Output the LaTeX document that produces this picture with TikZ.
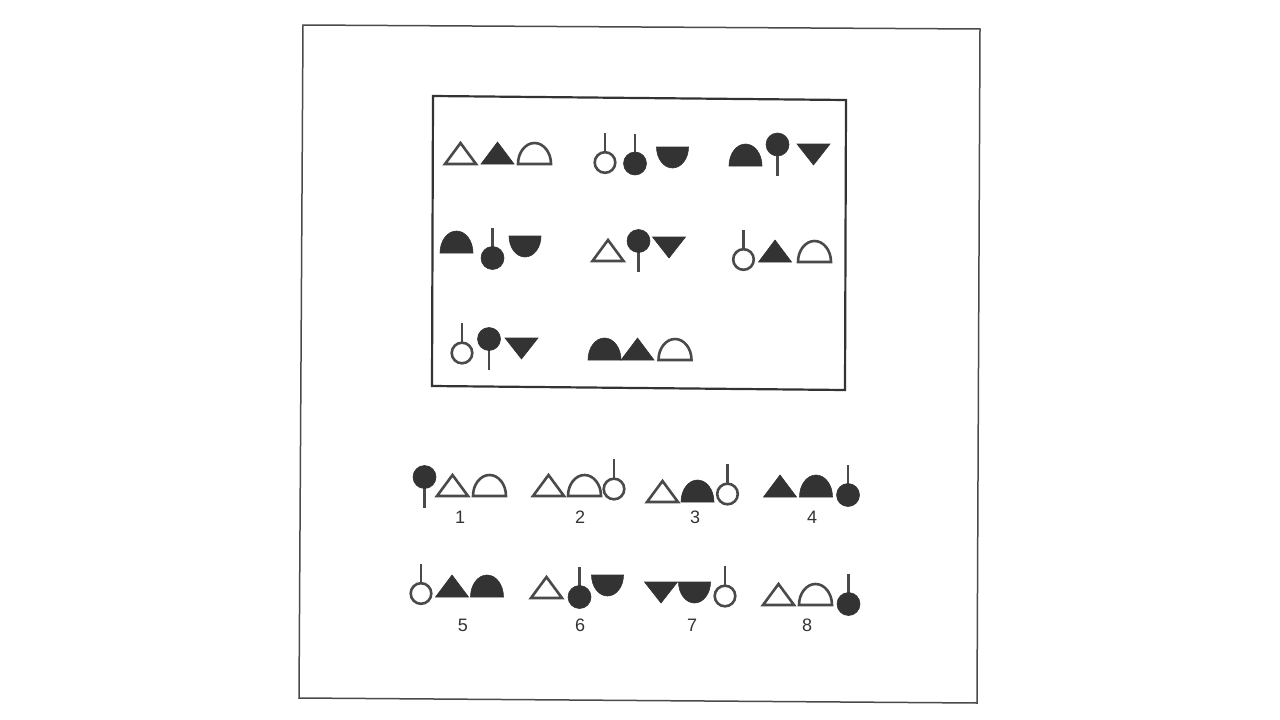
\documentclass[tikz,border=0pt]{standalone}
\usepackage{fontspec}
\setmainfont{Liberation Sans}
\definecolor{ink}{HTML}{333333}
\definecolor{lineink}{HTML}{4A4A4A}
\tikzset{
  openshape/.style={draw=lineink, line width=2.6, fill=white, line join=miter},
  fillshape/.style={fill=ink, draw=ink, line width=0.6},
  stick/.style={draw=lineink, line width=2.2},
  numlabel/.style={font=\fontsize{18}{18}\selectfont, text=ink, inner sep=0},
  % triangles: origin at bottom centre
  otri/.pic={\path[openshape] (-15.5,0) -- (15.5,0) -- (0,-21) -- cycle;},
  ftri/.pic={\path[fillshape] (-16.5,0) -- (16.5,0) -- (0,-22) -- cycle;},
  % inverted triangle: origin at top centre
  fitri/.pic={\path[fillshape] (-16.5,0) -- (16.5,0) -- (0,21) -- cycle;},
  % domes: origin at bottom centre
  odome/.pic={\path[openshape] (-16.5,0) .. controls (-16.5,-11.6) and (-9.1,-21) .. (0,-21)
      .. controls (9.1,-21) and (16.5,-11.6) .. (16.5,0) -- cycle;},
  fdome/.pic={\path[fillshape] (-16.5,0) .. controls (-16.5,-12.2) and (-9.1,-22) .. (0,-22)
      .. controls (9.1,-22) and (16.5,-12.2) .. (16.5,0) -- cycle;},
  % bowl: origin at top centre
  fbowl/.pic={\path[fillshape] (-16,0) .. controls (-16,11.6) and (-8.8,21) .. (0,21)
      .. controls (8.8,21) and (16,11.6) .. (16,0) -- cycle;},
  % lollipops: origin at circle centre
  oup/.pic={\path[stick] (0,-11.5) -- (0,-30); \path[openshape] (0,0) circle[radius=10.3];},
  fup/.pic={\path[stick] (0,-11) -- (0,-30); \path[fillshape] (0,0) circle[radius=11.5];},
  fdown/.pic={\path[stick] (0,11) -- (0,31); \path[fillshape] (0,0) circle[radius=11.5];},
}
\begin{document}
\begin{tikzpicture}[x=1pt,y=-1pt]
\useasboundingbox[fill=white] (0,0) rectangle (1280,720);
% outer frame
\draw[lineink, line width=1.5] (303,25) -- (980,29) -- (977,703) -- (299,698) -- cycle;
% inner box
\draw[ink, line width=2.2] (433,96) -- (846,100) -- (845,390) -- (432,386) -- cycle;

% ---- Row 1 ----
\pic at (460.5,164) {otri};
\pic at (497.5,164) {ftri};
\pic at (534.5,164) {odome};

\pic at (605,162.5) {oup};
\pic at (635,163.5) {fup};
\pic at (672.5,147) {fbowl};

\pic at (745.5,166) {fdome};
\pic at (777.5,144.5) {fdown};
\pic at (813.5,144) {fitri};

% ---- Row 2 ----
\pic at (456.5,253) {fdome};
\pic at (492.5,258) {fup};
\pic at (525,236) {fbowl};

\pic at (608,261) {otri};
\pic at (638.5,241) {fdown};
\pic at (669,237) {fitri};

\pic at (743.5,259.5) {oup};
\pic at (775,262) {ftri};
\pic at (814.5,262) {odome};

% ---- Row 3 ----
\pic at (462,353) {oup};
\pic at (489,339) {fdown};
\pic at (521.5,338) {fitri};

\pic at (604.5,360) {fdome};
\pic at (637.5,360) {ftri};
\pic at (675,360) {odome};

% ---- Answers, row 1 ----
\pic at (424.5,477) {fdown};
\pic at (452.5,496) {otri};
\pic at (489.5,496) {odome};
\node[numlabel] (n1) at (460,517) {1};

\pic at (548.5,496) {otri};
\pic at (584.5,496) {odome};
\pic at (614,489) {oup};
\node[numlabel] (n2) at (580,517) {2};

\pic at (662.5,502) {otri};
\pic at (697.5,502) {fdome};
\pic at (727.5,494) {oup};
\node[numlabel] (n3) at (695,517) {3};

\pic at (780,497) {ftri};
\pic at (816,497) {fdome};
\pic at (848,495) {fup};
\node[numlabel] (n4) at (812,517) {4};

% ---- Answers, row 2 ----
\pic at (421,593.5) {oup};
\pic at (452,597) {ftri};
\pic at (487,597) {fdome};
\node[numlabel] (n5) at (463,625) {5};

\pic at (546.5,598) {otri};
\pic at (579.5,597) {fup};
\pic at (607.5,575) {fbowl};
\node[numlabel] (n6) at (580,625) {6};

\pic at (661,582) {fitri};
\pic at (694.5,582) {fbowl};
\pic at (725,596) {oup};
\node[numlabel] (n7) at (692,625) {7};

\pic at (778.5,605) {otri};
\pic at (815.5,605) {odome};
\pic at (848.5,604) {fup};
\node[numlabel] (n8) at (807,625) {8};
\end{tikzpicture}
\end{document}
